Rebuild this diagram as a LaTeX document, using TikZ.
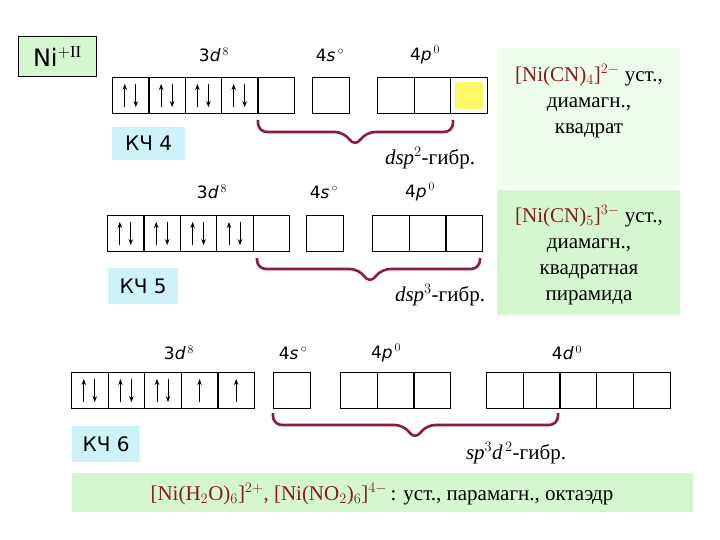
\documentclass[tikz,border=0pt]{standalone}
\usepackage{fontspec}
\setmainfont{Liberation Serif}
\setsansfont{DejaVu Sans}
\usetikzlibrary{arrows.meta}
\definecolor{maroon}{HTML}{8B1A4A}
\definecolor{fred}{HTML}{8B1A1A}
\definecolor{lgreen}{HTML}{D5F7CF}
\definecolor{pgreen}{HTML}{EEFCEB}
\definecolor{lcyan}{HTML}{CDF3F8}
\tikzset{
 orb/.style={draw,line width=1.1pt,minimum width=36.5pt,minimum height=36pt,inner sep=0pt,anchor=north west},
 orbs/.style={orb,minimum width=36.7pt},
 spin/.style={line width=1pt,-{Stealth[length=6pt,width=4.5pt]}},
 brc/.style={draw=maroon,line width=2.6pt,rounded corners=9pt},
 lbl/.style={font=\sffamily\fontsize{17}{19}\selectfont,inner sep=0pt},
 kch/.style={fill=lcyan,font=\sffamily\fontsize{20}{22}\selectfont,inner sep=0pt,anchor=north west},
 hyb/.style={font=\fontsize{21}{23}\selectfont,inner sep=0pt},
 info/.style={font=\fontsize{21}{26}\selectfont,align=center,inner sep=0pt}
}
\newcommand{\pair}[1]{\draw[spin] ([xshift=-6pt,yshift=7pt]#1.south) -- ([xshift=-6pt,yshift=-7pt]#1.north);
 \draw[spin] ([xshift=5pt,yshift=-7pt]#1.north) -- ([xshift=5pt,yshift=7pt]#1.south);}
\newcommand{\single}[1]{\draw[spin] ([yshift=7pt]#1.south) -- ([yshift=-7pt]#1.north);}
\begin{document}
\begin{tikzpicture}[x=1pt,y=-1pt]
\useasboundingbox (0,0) rectangle (720,540);
% info boxes
\node[fill=pgreen,minimum width=183pt,minimum height=137pt,anchor=north west] (g1) at (497,48) {};
\node[info] (t1) at (589,101) {\textcolor{fred}{[Ni(CN)$_4$]$^{2-}$} уст.,\\диамагн.,\\квадрат};
\node[fill=lgreen,minimum width=183pt,minimum height=125pt,anchor=north west] (g2) at (497,190) {};
\node[info] (t2) at (589,255) {\textcolor{fred}{[Ni(CN)$_5$]$^{3-}$} уст.,\\диамагн.,\\квадратная\\пирамида};
\node[fill=lgreen,minimum width=621pt,minimum height=39pt,anchor=north west] (g3) at (72,473) {};
\node[info] (t3) at (382,494) {\textcolor{fred}{[Ni(H$_2$O)$_6$]$^{2+}$, [Ni(NO$_2$)$_6$]$^{4-}$}\,: уст., парамагн., октаэдр};
% Ni
\node[draw,fill=lgreen,line width=0.8pt,minimum width=78pt,minimum height=40pt,anchor=north west,inner sep=0pt,font=\sffamily\fontsize{24}{26}\selectfont] (ni) at (18,36) {Ni$^{\rm +II}$};
% row 1
\node[lbl] (l1a) at (214,55) {3\textit{d}$^{\,8}$};
\node[lbl] (l1b) at (330,55) {4\textit{s}$^{\,\circ}$};
\node[lbl] (l1c) at (425,55) {4\textit{p}$^{\,0}$};
\foreach \i in {0,...,4} \node[orb] (a\i) at (112+36.3*\i,77) {};
\node[orb] (as) at (312,77) {};
\foreach \i in {0,1,2} \node[orb] (ap\i) at (377+36.5*\i,77) {};
\fill[yellow!60] ([xshift=5pt,yshift=-5pt]ap2.north west) rectangle ([xshift=-5pt,yshift=5pt]ap2.south east);
\foreach \i in {0,...,3} {\pair{a\i}}
\coordinate (b1l) at (258,120); \coordinate (b1r) at (453,120);
\path[brc] (b1l) -- (258,132) -- (344,132) -- (355,147) -- (366,132) -- (453,132) -- (b1r);
\node[kch,minimum width=73pt,minimum height=33pt] (k4) at (112,127) {КЧ 4};
\node[hyb] (h1) at (430,158) {\textit{dsp}$^2$-гибр.};
% row 2
\node[lbl] (l2a) at (212,192) {3\textit{d}$^{\,8}$};
\node[lbl] (l2b) at (324,192) {4\textit{s}$^{\,\circ}$};
\node[lbl] (l2c) at (420,192) {4\textit{p}$^{\,0}$};
\foreach \i in {0,...,4} \node[orb] (b\i) at (107+36.4*\i,215) {};
\node[orb] (bs) at (306,215) {};
\foreach \i in {0,1,2} \node[orbs] (bp\i) at (372+36.7*\i,215) {};
\foreach \i in {0,...,3} {\pair{b\i}}
\coordinate (b2l) at (257,258); \coordinate (b2r) at (480,258);
\path[brc] (b2l) -- (257,269) -- (359,269) -- (370,284) -- (381,269) -- (480,269) -- (b2r);
\node[kch,minimum width=70pt,minimum height=36pt] (k5) at (108,268) {КЧ 5};
\node[hyb] (h2) at (440,295) {\textit{dsp}$^3$-гибр.};
% row 3
\node[lbl] (l3a) at (179,353) {3\textit{d}$^{\,8}$};
\node[lbl] (l3b) at (293,353) {4\textit{s}$^{\,\circ}$};
\node[lbl] (l3c) at (386,353) {4\textit{p}$^{\,0}$};
\node[lbl] (l3d) at (567,353) {4\textit{d}$^{\,0}$};
\foreach \i in {0,...,4} \node[orb] (c\i) at (71+36.6*\i,372) {};
\node[orb] (cs) at (273,372) {};
\foreach \i in {0,1,2} \node[orbs] (cp\i) at (340+36.7*\i,372) {};
\foreach \i in {0,...,4} \node[orbs] (cd\i) at (486+36.7*\i,372) {};
\foreach \i in {0,1,2} {\pair{c\i}}
\single{c3} \single{c4}
\coordinate (b3l) at (273,413); \coordinate (b3r) at (558,413);
\path[brc] (b3l) -- (273,425) -- (404,425) -- (415,440) -- (426,425) -- (558,425) -- (b3r);
\node[kch,minimum width=68pt,minimum height=36pt] (k6) at (72,426) {КЧ 6};
\node[hyb] (h3) at (516,453) {\textit{sp}$^3$\textit{d}$^{\,2}$-гибр.};
\end{tikzpicture}
\end{document}
